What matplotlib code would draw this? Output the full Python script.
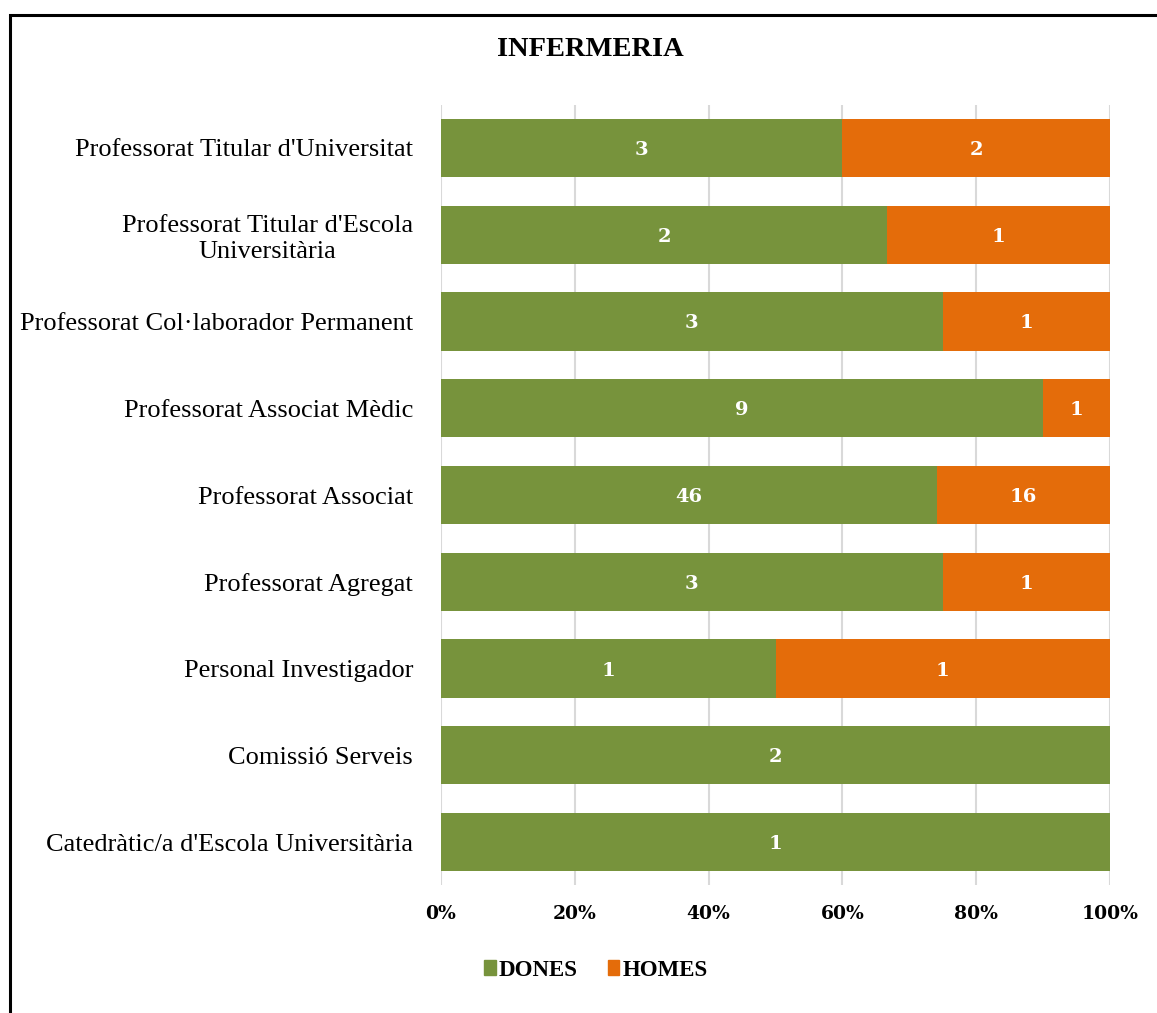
import matplotlib
matplotlib.use("Agg")
import matplotlib.pyplot as plt
from matplotlib.patches import Rectangle, Patch
import numpy as np

categories = ["Catedràtic/a d'Escola Universitària", "Comissió Serveis", "Personal Investigador",
              "Professorat Agregat", "Professorat Associat", "Professorat Associat Mèdic",
              "Professorat Col·laborador Permanent", "Professorat Titular d'Escola\nUniversitària",
              "Professorat Titular d'Universitat"]
dones = [1, 2, 1, 3, 46, 9, 3, 2, 3]
homes = [0, 0, 1, 1, 16, 1, 1, 1, 2]
xticks = [0, 20, 40, 60, 80, 100]
title = "INFERMERIA"

green = "#77933C"
orange = "#E46C0A"

fig = plt.figure(figsize=(11.57, 10.13), dpi=100)
ax = fig.add_axes([441/1157, 1-885.4/1013, (1110-441)/1157, (885.4-104.6)/1013])

d = np.array(dones, float); h = np.array(homes, float)
tot = d + h
dp = d / tot * 100
hp = h / tot * 100
y = np.arange(len(categories))
ax.barh(y, dp, height=0.67, color=green, zorder=3)
ax.barh(y, hp, left=dp, height=0.67, color=orange, zorder=3)

num_font = dict(family="DejaVu Serif", weight="bold", size=14, color="white")
for i in range(len(y)):
    if dones[i] > 0:
        ax.text(dp[i]/2, y[i], str(dones[i]), ha="center", va="center_baseline", zorder=4, **num_font)
    if homes[i] > 0:
        ax.text(dp[i] + hp[i]/2, y[i], str(homes[i]), ha="center", va="center_baseline", zorder=4, **num_font)

ax.set_xlim(0, 100)
ax.set_ylim(-0.5, len(categories) - 0.5)
ax.set_xticks(xticks)
ax.set_xticklabels([f"{t}%" for t in xticks], fontfamily="DejaVu Serif", fontweight="bold", fontsize=13.5)
ax.set_yticks(y)
ax.set_yticklabels(categories, fontfamily="Liberation Serif", fontsize=19)
for lbl in ax.get_yticklabels():
    lbl.set_multialignment("center")
    lbl.set_linespacing(1.25)
ax.tick_params(axis="both", length=0)
ax.tick_params(axis="x", pad=14)
ax.tick_params(axis="y", pad=20)
for s in ax.spines.values():
    s.set_visible(False)
ax.xaxis.grid(True, color="#D9D9D9", linewidth=1.5, zorder=0)
ax.set_axisbelow(True)

fig.text(590/1157, 1-49/1013, title, ha="center", va="center", fontfamily="Liberation Serif",
         fontweight="bold", fontsize=20.5)

handles = [Patch(color=green, label="DONES"), Patch(color=orange, label="HOMES")]
fig.legend(handles=handles, loc="center", bbox_to_anchor=(596/1157, 1-970/1013), ncol=2, frameon=False,
           prop=dict(family="Liberation Serif", weight="bold", size=16.5), handlelength=0.5, handleheight=0.6,
           handletextpad=0.15, columnspacing=1.3)

fig.patches.append(Rectangle((10/1157, -0.1), 1.2, 1-15/1013 + 0.1, transform=fig.transFigure,
                             fill=False, edgecolor="black", linewidth=2.2))

fig.savefig("out.png", dpi=100)
